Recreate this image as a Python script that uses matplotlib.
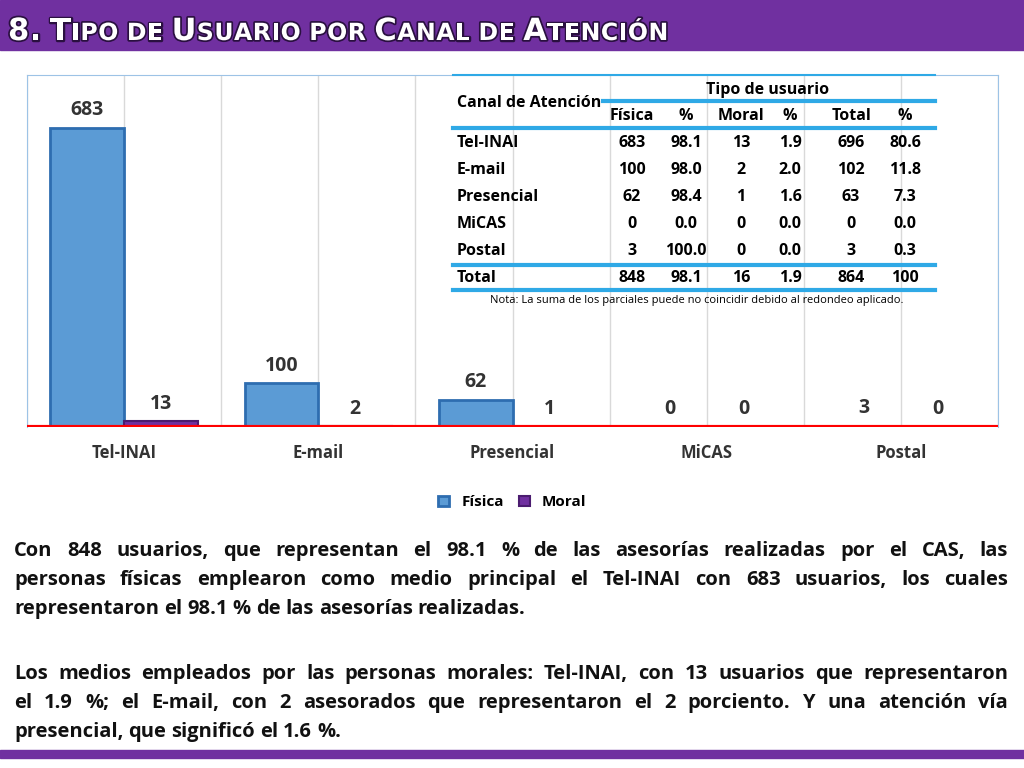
import matplotlib.pyplot as plt
import numpy as np
from matplotlib.patches import Rectangle
import matplotlib.patheffects as pe

canales = ["Tel-INAI", "E-mail", "Presencial", "MiCAS", "Postal"]
fisica = [683, 100, 62, 0, 3]
moral = [13, 2, 1, 0, 0]
fisica_pct = ["98.1", "98.0", "98.4", "0.0", "100.0"]
moral_pct = ["1.9", "2.0", "1.6", "0.0", "0.0"]
total = [696, 102, 63, 0, 3]
total_pct = ["80.6", "11.8", "7.3", "0.0", "0.3"]
fila_total = ["848", "98.1", "16", "1.9", "864", "100"]

parrafo1 = ["Con 848 usuarios, que representan el 98.1 % de las asesorías realizadas por el CAS, las",
            "personas físicas emplearon como medio principal el Tel-INAI con 683 usuarios, los cuales",
            "representaron el 98.1 % de las asesorías realizadas."]
parrafo2 = ["Los medios empleados por las personas morales: Tel-INAI, con 13 usuarios que representaron",
            "el 1.9 %; el E-mail, con 2 asesorados que representaron el 2 porciento. Y una atención vía",
            "presencial, que significó el 1.6 %."]

W, H = 1024, 768
fig = plt.figure(figsize=(W / 100, H / 100), dpi=100)
fig.patch.set_facecolor("white")
plt.rcParams["font.family"] = "Open Sans"

def fx(x): return x / W
def fy(y): return 1 - y / H

# barras moradas de encabezado y pie
fig.patches.append(Rectangle((0, fy(50)), 1, 50 / H, transform=fig.transFigure, color="#7030A0"))
fig.patches.append(Rectangle((0, fy(758)), 1, 8 / H, transform=fig.transFigure, color="#7030A0"))

# título en versalitas
fig.canvas.draw()
r = fig.canvas.get_renderer()
x = 8
stroke = [pe.withStroke(linewidth=2.5, foreground="#2a1040")]
for word in "8. Tipo de Usuario por Canal de Atención".split(" "):
    for ch in word:
        big = ch.isupper() or not ch.isalpha()
        t = fig.text(fx(x), fy(40), ch.upper(), fontsize=22 if big else 17, color="white",
                     fontweight="bold", family="DejaVu Sans Condensed",
                     path_effects=stroke, va="baseline")
        x += t.get_window_extent(r).width + 0.5
    x += 8

# gráfica
ax = fig.add_axes([fx(27), fy(427), fx(998 - 27), (427 - 75) / H])
idx = np.arange(len(canales))
bw = 0.38
ax.bar(idx - bw / 2, fisica, bw, color="#5B9BD5", edgecolor="#2E6DB0", linewidth=2, label="Física", zorder=3)
ax.bar(idx + bw / 2, moral, bw, color="#7030A0", edgecolor="#4B1C70", linewidth=1.5, label="Moral", zorder=3)
ax.set_ylim(0, 804)
ax.set_xlim(-0.5, len(canales) - 0.5)
for i in idx:
    ax.text(i - bw / 2, fisica[i] + 40, str(fisica[i]), ha="center", va="center", fontsize=14, fontweight="bold", color="#333333")
    ax.text(i + bw / 2, moral[i] + 40, str(moral[i]), ha="center", va="center", fontsize=14, fontweight="bold", color="#333333")
for v in np.arange(-0.5, len(canales), 0.5):
    ax.axvline(v, color="#d9d9d9", linewidth=1, zorder=1)
ax.axhline(0, color="#FF0000", linewidth=3, zorder=4)
ax.set_yticks([])
ax.set_xticks(idx)
ax.set_xticklabels(canales, fontsize=12, fontweight="bold", color="#333333")
ax.tick_params(axis="x", length=0, pad=12)
for s in ["top", "left", "right"]:
    ax.spines[s].set_color("#9DC3E6")
ax.spines["bottom"].set_visible(False)
ax.legend(loc="upper center", bbox_to_anchor=(0.5, -0.155), ncol=2, frameon=False,
          prop={"weight": "bold", "size": 11}, handlelength=0.7, handleheight=0.7, columnspacing=1)

# tabla
tab = fig.add_axes([0, 0, 1, 1], facecolor="none")
tab.set_xlim(0, W); tab.set_ylim(H, 0); tab.axis("off")
blue = "#2FA9E6"
tab.plot([453, 935], [75, 75], color=blue, lw=1.5)
tab.plot([603, 935], [101, 101], color=blue, lw=3)
for yy in (128, 265, 290):
    tab.plot([453, 935], [yy, yy], color=blue, lw=3)
fs = 11.5
cols = [632, 686, 741, 790, 851, 905]
tab.text(457, 103, "Canal de Atención", fontsize=fs, fontweight="bold", va="center")
tab.text(768, 90, "Tipo de usuario", fontsize=fs, fontweight="bold", ha="center", va="center")
for c, h in zip(cols, ["Física", "%", "Moral", "%", "Total", "%"]):
    tab.text(c, 116, h, fontsize=fs, fontweight="bold", ha="center", va="center")
for i, name in enumerate(canales):
    yy = 143 + 27 * i
    tab.text(457, yy, name, fontsize=fs, fontweight="bold", va="center")
    vals = [fisica[i], fisica_pct[i], moral[i], moral_pct[i], total[i], total_pct[i]]
    for c, v in zip(cols, vals):
        tab.text(c, yy, str(v), fontsize=fs, fontweight="bold", ha="center", va="center")
tab.text(457, 278, "Total", fontsize=fs, fontweight="bold", va="center")
for c, v in zip(cols, fila_total):
    tab.text(c, 278, v, fontsize=fs, fontweight="bold", ha="center", va="center")
tab.text(697, 300, "Nota: La suma de los parciales puede no coincidir debido al redondeo aplicado.",
         fontsize=8, ha="center", va="center")

# párrafos justificados
def line(words_line, y, justify):
    words = words_line.split(" ")
    ts = [tab.text(0, y, w, fontsize=14.5, fontweight="bold", va="center", color="#111111") for w in words]
    widths = [t.get_window_extent(r).width for t in ts]
    left, right = 14, 1008
    if justify and len(words) > 1:
        gap = (right - left - sum(widths)) / (len(words) - 1)
    else:
        gap = 5
    xx = left
    for t, w in zip(ts, widths):
        t.set_x(xx)
        xx += w + gap

for k, l in enumerate(parrafo1):
    line(l, 551 + 29 * k, k < len(parrafo1) - 1)
for k, l in enumerate(parrafo2):
    line(l, 674 + 29 * k, k < len(parrafo2) - 1)

fig.savefig("out.png", dpi=100)
